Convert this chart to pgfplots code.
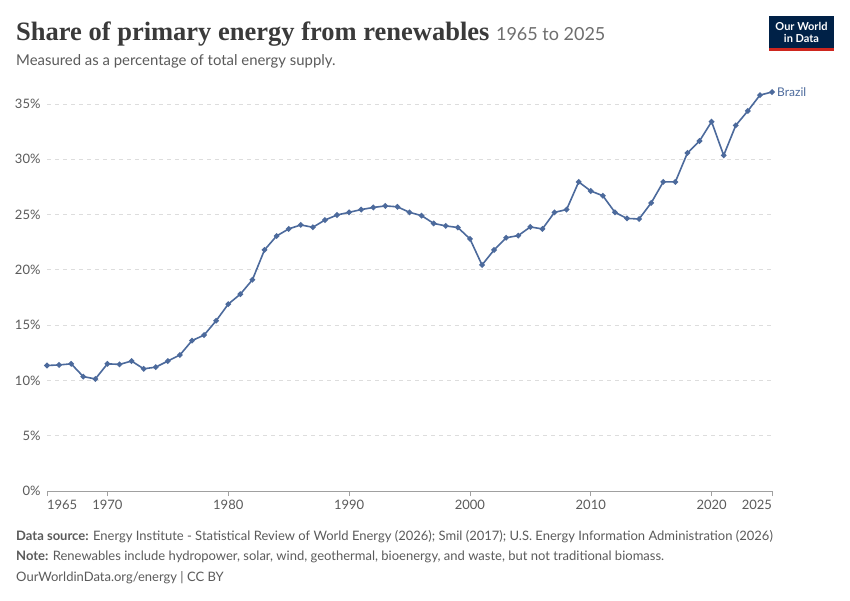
\documentclass[border=0pt]{standalone}
\usepackage{pgfplots}
\pgfplotsset{compat=1.18}
\usepackage{fontspec}
\setmainfont{Lato}
\newfontfamily\titlefont{Liberation Serif}
\definecolor{owidblue}{HTML}{4C6A9C}
\definecolor{txtgray}{HTML}{5B5B5B}
\definecolor{titlegray}{HTML}{3A3A3A}
\definecolor{lightgray}{HTML}{6E6E6E}
\definecolor{gridgray}{HTML}{DDDDDD}
\definecolor{axisgray}{HTML}{A0A0A0}
\definecolor{navy}{HTML}{002147}
\definecolor{owidred}{HTML}{CE261E}
\begin{document}
\begin{tikzpicture}[x=1pt,y=1pt]
\useasboundingbox (0,0) rectangle (850,600);
\fill[white] (0,0) rectangle (850,600);
% title
\node[anchor=base west,inner sep=0] at (16,559) {\titlefont\fontsize{26.5}{30}\selectfont\bfseries\color{titlegray}Share of primary energy from renewables\ \fontsize{18}{20}\selectfont\mdseries\rmfamily\color{lightgray}1965 to 2025};
\node[anchor=base west,inner sep=0] at (16,534) {\fontsize{14.9}{17}\selectfont\color{txtgray}Measured as a percentage of total energy supply.};
% logo
\fill[navy] (769,552) rectangle (834,584);
\fill[owidred] (769,549) rectangle (834,552);
\node[align=center,inner sep=0,text=white,font=\fontsize{11}{12}\selectfont\bfseries] at (801.5,568) {Our World\\in Data};
% footer
\node[anchor=base west,inner sep=0] at (16,60) {\fontsize{13}{15}\selectfont\color{txtgray}{\bfseries Data source:} Energy Institute - Statistical Review of World Energy (2026); Smil (2017); U.S. Energy Information Administration (2026)};
\node[anchor=base west,inner sep=0] at (16,40) {\fontsize{13}{15}\selectfont\color{txtgray}{\bfseries Note:} Renewables include hydropower, solar, wind, geothermal, bioenergy, and waste, but not traditional biomass.};
\node[anchor=base west,inner sep=0] at (16,19) {\fontsize{13}{15}\selectfont\color{txtgray}OurWorldinData.org/energy | CC BY};
\begin{axis}[
  at={(47pt,109pt)}, anchor=south west,
  width=725pt, height=400.3pt, scale only axis,
  xmin=1965, xmax=2025, ymin=0, ymax=36.2,
  clip=false,
  axis x line*=bottom,
  axis y line*=left,
  y axis line style={draw=none},
  x axis line style={draw=axisgray, line width=0.8pt},
  xtick={1965,1970,1980,1990,2000,2010,2020,2025},
  xticklabels={\makebox[0pt][l]{1965},1970,1980,1990,2000,2010,2020,\makebox[0pt][r]{2025}},
  ytick={0,5,10,15,20,25,30,35},
  yticklabels={0\%,5\%,10\%,15\%,20\%,25\%,30\%,35\%},
  tick align=outside,
  major tick length=5pt,
  x tick style={draw=axisgray, line width=0.8pt},
  y tick style={draw=none},
  ymajorgrids,
  grid style={draw=gridgray, dash pattern=on 4pt off 4pt, line width=0.8pt},
  tick label style={font=\fontsize{13}{15}\selectfont, text=txtgray},
  xticklabel style={anchor=north, yshift=-1pt},
  yticklabel style={anchor=east, xshift=2pt},
]
\addplot[color=owidblue, line width=1.6pt, mark=*, mark size=1.9pt] coordinates {
(1965,11.35) (1966,11.4) (1967,11.5) (1968,10.35) (1969,10.13)
(1970,11.5) (1971,11.45) (1972,11.75) (1973,11.05) (1974,11.2)
(1975,11.75) (1976,12.3) (1977,13.6) (1978,14.1) (1979,15.4)
(1980,16.9) (1981,17.8) (1982,19.1) (1983,21.8) (1984,23.06)
(1985,23.7) (1986,24.06) (1987,23.85) (1988,24.5) (1989,24.96)
(1990,25.2) (1991,25.45) (1992,25.64) (1993,25.78) (1994,25.7)
(1995,25.2) (1996,24.9) (1997,24.2) (1998,23.97) (1999,23.83)
(2000,22.8) (2001,20.44) (2002,21.8) (2003,22.9) (2004,23.1)
(2005,23.88) (2006,23.7) (2007,25.2) (2008,25.45) (2009,27.95)
(2010,27.13) (2011,26.7) (2012,25.2) (2013,24.65) (2014,24.6)
(2015,26.05) (2016,27.95) (2017,27.95) (2018,30.57) (2019,31.65)
(2020,33.4) (2021,30.35) (2022,33.06) (2023,34.37) (2024,35.8)
(2025,36.08)
};
\node[anchor=west, inner sep=0, xshift=5pt, font=\fontsize{12}{14}\selectfont, text=owidblue] at (axis cs:2025,36.08) {Brazil};
\end{axis}
\end{tikzpicture}
\end{document}
